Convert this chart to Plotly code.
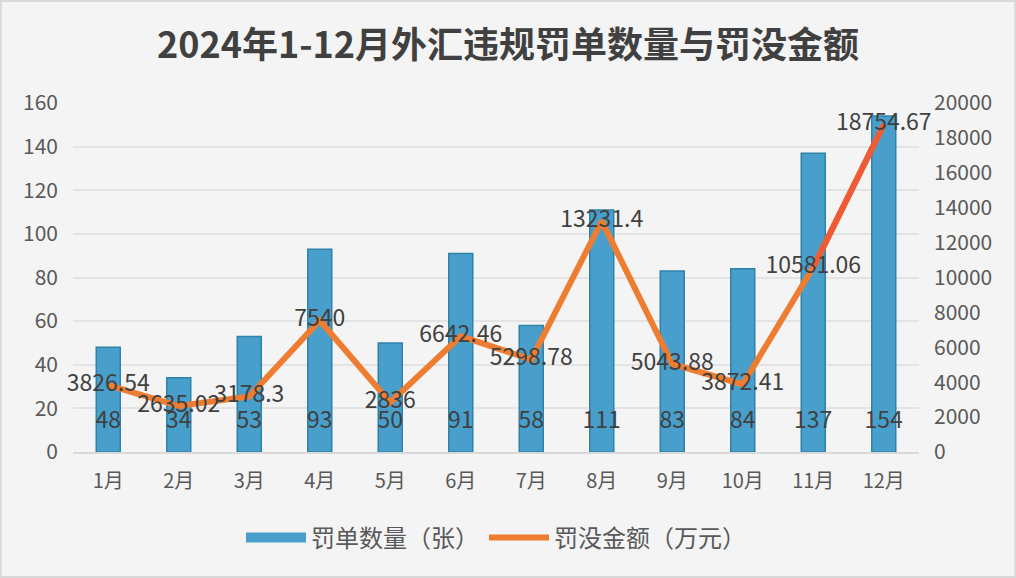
import plotly.graph_objects as go

months = ["1月", "2月", "3月", "4月", "5月", "6月", "7月", "8月", "9月", "10月", "11月", "12月"]
counts = [48, 34, 53, 93, 50, 91, 58, 111, 83, 84, 137, 154]
amounts = [3826.54, 2635.02, 3178.3, 7540, 2836, 6642.46, 5298.78, 13231.4, 5043.88, 3872.41, 10581.06, 18754.67]
amount_labels = ["3826.54", "2635.02", "3178.3", "7540", "2836", "6642.46", "5298.78",
                 "13231.4", "5043.88", "3872.41", "10581.06", "18754.67"]

FONT = "Noto Sans CJK SC, Noto Sans, sans-serif"
W, H = 1016, 578
ML, MR, MT, MB = 73, 97, 103, 126
pw, ph = W - ML - MR, H - MT - MB
BAR_COLOR = "#489FCC"
BAR_EDGE = "#2E82A8"

fig = go.Figure()

fig.add_trace(go.Bar(
    x=months, y=counts, name="罚单数量（张）",
    width=0.34, showlegend=False,
    marker=dict(color=BAR_COLOR, line=dict(color=BAR_EDGE, width=1.5)),
    hoverinfo="y",
))

# bar value labels sit near the base of the bars
fig.add_trace(go.Scatter(
    x=months, y=[13.5] * len(counts), mode="text",
    text=[str(c) for c in counts], cliponaxis=False,
    textfont=dict(size=23, color="#404040", family=FONT),
    showlegend=False, hoverinfo="skip",
))

# legend entry for the bars (wide swatch like the original)
fig.add_trace(go.Scatter(
    x=[None], y=[None], mode="lines", name="罚单数量（张）",
    line=dict(color=BAR_COLOR, width=16),
))

fig.add_trace(go.Scatter(
    x=months, y=amounts, name="罚没金额（万元）", yaxis="y2",
    mode="lines", line=dict(color="#EE7D31", width=6),
))
# last rising segment turns red
fig.add_trace(go.Scatter(
    x=months[-2:], y=amounts[-2:], yaxis="y2", mode="lines",
    line=dict(color="#EF5B36", width=6), showlegend=False, hoverinfo="skip",
))
fig.add_trace(go.Scatter(
    x=months, y=amounts, yaxis="y2", mode="text",
    text=amount_labels, textposition="middle center", cliponaxis=False,
    textfont=dict(size=23, color="#404040", family=FONT),
    showlegend=False, hoverinfo="skip",
))

fig.update_layout(
    width=W, height=H,
    margin=dict(l=ML, r=MR, t=MT, b=MB, autoexpand=False),
    paper_bgcolor="#F4F4F4", plot_bgcolor="#F4F4F4",
    font=dict(family=FONT, color="#595959"),
    title=dict(text="<b>2024年1-12月外汇违规罚单数量与罚没金额</b>",
               x=0.5, xanchor="center", y=0.922, yanchor="middle",
               font=dict(size=36, color="#404040", family=FONT)),
    xaxis=dict(range=[-0.5, len(months) - 0.5], showgrid=False, ticks="",
               tickfont=dict(size=20, color="#595959"),
               showline=True, linecolor="#D9D9D9", linewidth=2, ticklabelstandoff=10,
               automargin=False),
    yaxis=dict(range=[0, 160], dtick=20, showgrid=True, gridcolor="#E3E3E3", gridwidth=2,
               zeroline=False, tickfont=dict(size=21, color="#595959"), ticklabelstandoff=14,
               automargin=False),
    yaxis2=dict(range=[0, 20000], dtick=2000, tickformat="d", overlaying="y", side="right",
                showgrid=False, zeroline=False, tickfont=dict(size=21, color="#595959"),
                ticklabelstandoff=14, automargin=False),
    legend=dict(orientation="h", x=0.5, xanchor="center", y=-0.246, yanchor="middle",
                font=dict(size=24, color="#595959"), itemwidth=60),
    showlegend=True,
)

fig.add_shape(type="rect", xref="paper", yref="paper",
              x0=-ML / pw + 0.001, x1=1 + MR / pw - 0.001,
              y0=-MB / ph + 0.003, y1=1 + MT / ph - 0.003,
              line=dict(color="#D9D9D9", width=2), layer="below")

fig.write_html("out.html", config={"displayModeBar": False},
               post_script="document.body.style.margin='0';")
